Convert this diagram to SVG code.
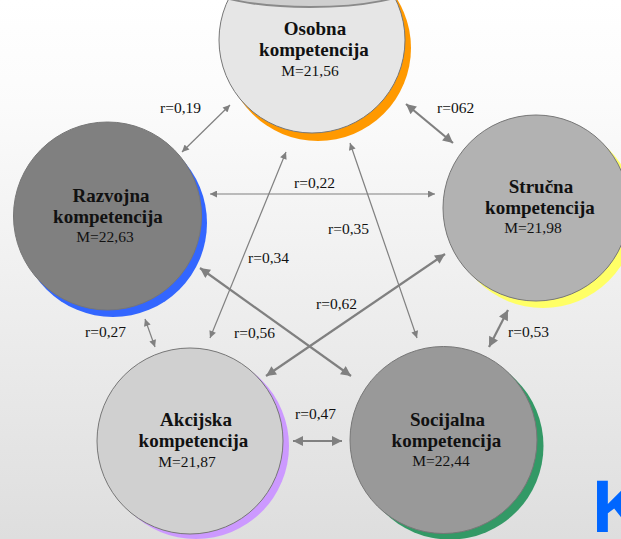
<svg xmlns="http://www.w3.org/2000/svg" width="621" height="539" viewBox="0 0 621 539">
<defs>
<linearGradient id="bg" x1="0" y1="0" x2="0" y2="1">
<stop offset="0" stop-color="#ffffff"/>
<stop offset="0.2" stop-color="#fbfbfb"/>
<stop offset="1" stop-color="#dedede"/>
</linearGradient>
<marker id="ah" viewBox="0 0 10 10" refX="10" refY="5" markerWidth="9" markerHeight="7" markerUnits="userSpaceOnUse" orient="auto-start-reverse">
<path d="M0,0 L10,5 L0,10 z" fill="#808080"/>
</marker>
<marker id="ahb" viewBox="0 0 10 10" refX="10" refY="5" markerWidth="11" markerHeight="10" markerUnits="userSpaceOnUse" orient="auto-start-reverse">
<path d="M0,0 L10,5 L0,10 z" fill="#808080"/>
</marker>
<clipPath id="clipO"><circle cx="312" cy="40" r="93"/></clipPath>
</defs>
<style>
.ring{stroke:#777;stroke-width:1}
.title{font-family:"Liberation Serif",serif;font-weight:bold;font-size:19px;fill:#111;text-anchor:middle}
.mean{font-family:"Liberation Serif",serif;font-size:15.5px;fill:#111;text-anchor:middle}
.lbl{font-family:"Liberation Serif",serif;font-size:15.5px;fill:#111}
.thin{stroke:#808080;stroke-width:1.2;fill:none;marker-start:url(#ah);marker-end:url(#ah)}
.thick{stroke:#808080;stroke-width:2.2;fill:none;marker-start:url(#ahb);marker-end:url(#ahb)}
</style>
<rect x="0" y="0" width="621" height="539" fill="url(#bg)"/>

<g id="osobna">
<circle cx="318" cy="48" r="93" fill="#ff9900"/>
<circle cx="312" cy="40" r="93" fill="#e6e6e6" class="ring"/>
<ellipse cx="310" cy="-13" rx="100" ry="20" fill="#cfcfcf" stroke="#8a8a8a" stroke-width="2" clip-path="url(#clipO)"/>
<text class="title" x="315" y="35">Osobna</text>
<text class="title" x="314" y="56">kompetencija</text>
<text class="mean" x="310" y="76">M=21,56</text>
</g>

<g id="razvojna">
<circle cx="113" cy="223" r="94" fill="#3366ff"/>
<circle cx="107.5" cy="216" r="94" fill="#808080" class="ring"/>
<text class="title" x="111" y="202">Razvojna</text>
<text class="title" x="108" y="223">kompetencija</text>
<text class="mean" x="105" y="242">M=22,63</text>
</g>

<g id="strucna">
<circle cx="543" cy="215" r="93" fill="#ffff66"/>
<circle cx="536" cy="208" r="93" fill="#b2b2b2" class="ring"/>
<text class="title" x="541" y="193">Stručna</text>
<text class="title" x="540" y="214">kompetencija</text>
<text class="mean" x="533" y="233">M=21,98</text>
</g>

<g id="akcijska">
<circle cx="196" cy="446" r="93" fill="#cc99ff"/>
<circle cx="190" cy="441" r="93" fill="#d0d0d0" class="ring"/>
<text class="title" x="196" y="426">Akcijska</text>
<text class="title" x="193.5" y="447">kompetencija</text>
<text class="mean" x="187" y="467">M=21,87</text>
</g>

<g id="socijalna">
<circle cx="450" cy="446" r="93.5" fill="#339966"/>
<circle cx="443.5" cy="440" r="93.5" fill="#999999" class="ring"/>
<text class="title" x="447.5" y="426">Socijalna</text>
<text class="title" x="446.5" y="447">kompetencija</text>
<text class="mean" x="441" y="466">M=22,44</text>
</g>

<g id="connectors">
<line class="thin" x1="182" y1="152" x2="230" y2="105"/>
<line class="thick" x1="406" y1="104" x2="453" y2="143"/>
<line class="thin" x1="210" y1="194" x2="435" y2="194"/>
<line class="thin" x1="286" y1="152" x2="210" y2="338"/>
<line class="thin" x1="350" y1="143" x2="417" y2="338"/>
<line class="thick" x1="200" y1="268" x2="351" y2="376"/>
<line class="thick" x1="445" y1="254" x2="266" y2="376"/>
<line class="thin" x1="145" y1="319" x2="155" y2="347"/>
<line class="thick" x1="293" y1="441" x2="342" y2="441"/>
<line class="thick" x1="508" y1="310" x2="489" y2="347"/>
</g>

<g id="labels">
<text class="lbl" x="160" y="113">r=0,19</text>
<text class="lbl" x="437" y="113">r=062</text>
<text class="lbl" x="294" y="188">r=0,22</text>
<text class="lbl" x="328" y="234">r=0,35</text>
<text class="lbl" x="248" y="263">r=0,34</text>
<text class="lbl" x="316" y="309">r=0,62</text>
<text class="lbl" x="234" y="338">r=0,56</text>
<text class="lbl" x="85" y="337">r=0,27</text>
<text class="lbl" x="295" y="419">r=0,47</text>
<text class="lbl" x="508" y="337">r=0,53</text>
</g>

<text x="592" y="532" font-family="Liberation Sans, Arial, sans-serif" font-weight="bold" font-size="75" fill="#0066ff">K</text>
</svg>
